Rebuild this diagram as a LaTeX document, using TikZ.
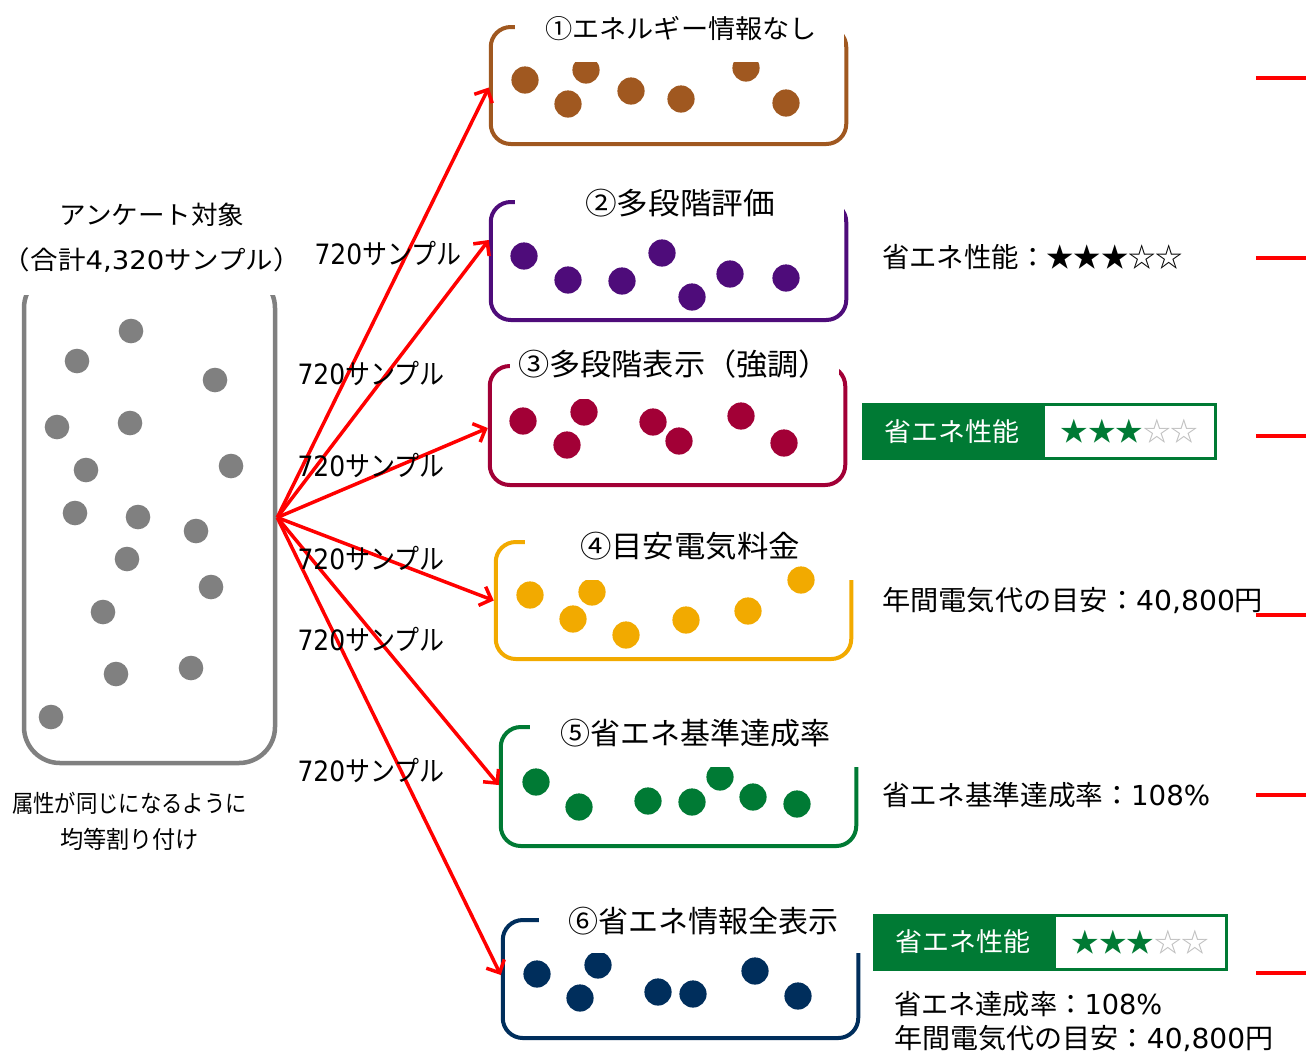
\documentclass[tikz,border=0pt]{standalone}
\usepackage{graphicx}
\usepackage{fontspec}
\setmainfont{Noto Sans CJK JP}
\newfontfamily\lat{DejaVu Sans}
\newcommand\fitw[2]{\resizebox{#1pt}{\height}{#2}}
\usetikzlibrary{arrows.meta}
\definecolor{cBrown}{RGB}{160,88,32}
\definecolor{cPurple}{RGB}{78,12,122}
\definecolor{cCrimson}{RGB}{162,0,54}
\definecolor{cAmber}{RGB}{242,170,0}
\definecolor{cGreen}{RGB}{0,122,52}
\definecolor{cNavy}{RGB}{0,46,92}
\definecolor{cGray}{RGB}{128,128,128}
\definecolor{cStarGray}{RGB}{190,190,190}
\begin{document}
\begin{tikzpicture}[x=1pt,y=-1pt,
  boxunit/.style={draw, line width=4pt, rounded corners=20pt, minimum width=355.5pt, inner sep=0pt},
  lbl/.style={inner sep=0pt, font=\fontsize{30}{34}\selectfont},
  smp/.style={inner sep=0pt, font=\fontsize{28}{32}\selectfont},
  rtxt/.style={inner sep=0pt, anchor=west, font=\fontsize{27.5}{32}\selectfont},
  arr/.style={draw=red, line width=3.5pt, -{Straight Barb[length=10pt,width=20pt]}},
  redln/.style={draw=red, line width=3.5pt},
  badgeL/.style={fill=cGreen, text=white, minimum width=180pt, minimum height=57pt, inner sep=0pt, font=\fontsize{26}{30}\selectfont},
  badgeR/.style={draw=cGreen, line width=3pt, fill=white, minimum width=172pt, minimum height=54pt, inner sep=0pt, font=\fontsize{27}{30}\selectfont}
]
\useasboundingbox (0,0) rectangle (1306,1053);
\fill[white] (0,0) rectangle (1306,1053);

% ---------- left container ----------
\node[draw=cGray, line width=4.5pt, rounded corners=36pt, minimum width=251pt, minimum height=491pt, inner sep=0pt] (cont) at (149.5,517.5) {};
\foreach \p in {(131,331),(77,361),(215,380),(57,427),(130,423),(86,470),(231,466),(75,513),(138,517),(196,531),(127,559),(211,587),(103,612),(116,674),(191,668),(51,717)}
  \fill[cGray] \p circle (12.3pt);
\fill[white] (0,180) rectangle (300,295);
\node[inner sep=0pt, align=center, font=\fontsize{25.5}{45}\selectfont] (title) at (152,238) {\fitw{185}{アンケート対象}\\\fitw{298}{（合計{\lat 4,320}サンプル）}};
\node[inner sep=0pt, align=center, font=\fontsize{24}{36}\selectfont] (cap) at (129.5,821) {\fitw{235}{属性が同じになるように}\\\fitw{139}{均等割り付け}};

% ---------- box 1 ----------
\node[boxunit, draw=cBrown, minimum height=117pt] (box1) at (668.5,85.5) {};
\foreach \p in {(525,80),(586,70),(568,104),(631,91),(681,99),(746,68),(786,103)}
  \fill[cBrown] \p circle (13.6pt);
\fill[white] (515,0) rectangle (844,62);
\node[lbl, font=\fontsize{26}{30}\selectfont] (t1) at (681,29) {\fitw{272}{①エネルギー情報なし}};

% ---------- box 2 ----------
\node[boxunit, draw=cPurple, minimum height=118pt] (box2) at (668.5,261) {};
\foreach \p in {(524,256),(568,280),(622,281),(662,253),(692,297),(730,274),(786,278)}
  \fill[cPurple] \p circle (13.6pt);
\fill[white] (515,175) rectangle (844,236);
\node[lbl] (t2) at (680,203) {\fitw{190}{②多段階評価}};

% ---------- box 3 ----------
\node[boxunit, draw=cCrimson, minimum height=119pt] (box3) at (667.5,425.5) {};
\foreach \p in {(523,421),(584,412),(567,445),(653,422),(679,441),(741,416),(784,443)}
  \fill[cCrimson] \p circle (13.6pt);
\fill[white] (510,335) rectangle (839,399);
\node[lbl] (t3) at (674,364) {\fitw{312}{③多段階表示（強調）}};

% ---------- box 4 ----------
\node[boxunit, draw=cAmber, minimum height=117pt] (box4) at (673.5,600.5) {};
\foreach \p in {(530,595),(592,592),(573,619),(626,635),(686,620),(748,611)}
  \fill[cAmber] \p circle (13.6pt);
\fill[white] (525,510) rectangle (856,580);
\fill[cAmber] (801,580) circle (13.6pt);
\node[lbl] (t4) at (690,546) {\fitw{220}{④目安電気料金}};

% ---------- box 5 ----------
\node[boxunit, draw=cGreen, minimum height=119pt] (box5) at (678.5,786.5) {};
\foreach \p in {(536,782),(579,807),(648,801),(692,802),(720,777),(753,797),(797,804)}
  \fill[cGreen] \p circle (13.6pt);
\fill[white] (530,700) rectangle (861,767);
\node[lbl] (t5) at (695,733) {\fitw{270}{⑤省エネ基準達成率}};

% ---------- box 6 ----------
\node[boxunit, draw=cNavy, minimum height=118pt] (box6) at (680.5,979) {};
\foreach \p in {(537,974),(598,965),(580,998),(658,992),(693,994),(755,971),(798,996)}
  \fill[cNavy] \p circle (13.6pt);
\fill[white] (539,885) rectangle (863,953);
\node[lbl] (t6) at (703,921) {\fitw{270}{⑥省エネ情報全表示}};

% ---------- arrows ----------
\draw[arr] (cont.east) -- ([yshift=-2pt]box1.west);
\draw[arr] (cont.east) -- ([yshift=21pt]box2.west);
\draw[arr] (cont.east) -- ([yshift=-2.5pt]box3.west);
\draw[arr] (cont.east) -- (box4.west);
\draw[arr] (cont.east) -- ([yshift=1.5pt]box5.west);
\draw[arr] (cont.east) -- ([yshift=4pt]box6.west);

% ---------- sample labels ----------
\node[smp] (s1) at (388,254) {\fitw{147}{{\lat 720}サンプル}};
\node[smp] (s2) at (371,374) {\fitw{147}{{\lat 720}サンプル}};
\node[smp] (s3) at (371,466) {\fitw{147}{{\lat 720}サンプル}};
\node[smp] (s4) at (371,558) {\fitw{147}{{\lat 720}サンプル}};
\node[smp] (s5) at (371,639) {\fitw{147}{{\lat 720}サンプル}};
\node[smp] (s6) at (371,770) {\fitw{147}{{\lat 720}サンプル}};

% ---------- right side ----------
\node[rtxt] (r2) at (882,257) {\fitw{301}{省エネ性能：★★★☆☆}};
\node[badgeL] (b3l) at (952,431.5) {\fitw{135}{省エネ性能}};
\node[badgeR] (b3r) at (1129.5,431.5) {\fitw{138}{{\color{cGreen}★★★}{\color{cStarGray}☆☆}}};
\node[rtxt] (r4) at (882,600) {\fitw{381}{年間電気代の目安：{\lat 40,800}円}};
\node[rtxt] (r5) at (882,795) {\fitw{328}{省エネ基準達成率：{\lat 108\%}}};
\node[badgeL] (b6l) at (963,942) {\fitw{135}{省エネ性能}};
\node[badgeR] (b6r) at (1140.5,942) {\fitw{138}{{\color{cGreen}★★★}{\color{cStarGray}☆☆}}};
\node[rtxt] (r6a) at (894,1004) {\fitw{268}{省エネ達成率：{\lat 108\%}}};
\node[rtxt] (r6b) at (894,1038) {\fitw{379}{年間電気代の目安：{\lat 40,800}円}};

% ---------- red markers ----------
\draw[redln] (1256,78) -- (1306,78);
\draw[redln] (1256,258) -- (1306,258);
\draw[redln] (1256,436) -- (1306,436);
\draw[redln] (1256,615) -- (1306,615);
\draw[redln] (1256,795) -- (1306,795);
\draw[redln] (1256,973) -- (1306,973);
\end{tikzpicture}
\end{document}
